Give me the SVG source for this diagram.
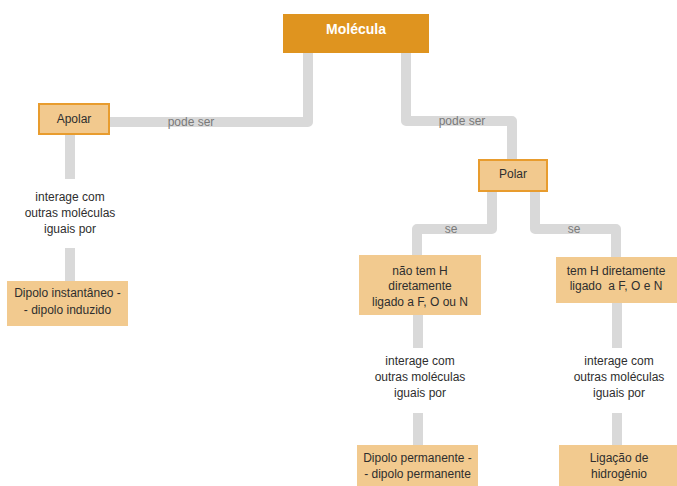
<svg xmlns="http://www.w3.org/2000/svg" width="677" height="486" viewBox="0 0 677 486">
<style>
text{font-family:"Liberation Sans","Arial",sans-serif;font-size:12px;fill:#2e2e2e;text-anchor:middle}
.t{fill:#fff;font-weight:bold;font-size:14px}
.lbl{fill:#7a7a7a}
.c{fill:none;stroke:#d9d9d9;stroke-width:10;stroke-linejoin:round}
.main{fill:#df941f}
.sel{fill:#f2c98e;stroke:#e89c2e;stroke-width:2}
.box{fill:#f2ca8f}
</style>
<rect width="677" height="486" fill="#fff"/>
<g id="connectors">
<path class="c" d="M308,53 V122 H109"/>
<path class="c" d="M406,53 V121 H512 V159"/>
<path class="c" d="M492,191 V229 H417 V256"/>
<path class="c" d="M535,191 V229 H616 V257"/>
<path class="c" d="M70,134 V179 M70,248 V281"/>
<path class="c" d="M418,315 V348 M418,413 V445"/>
<path class="c" d="M617,303 V348 M617,413 V445"/>
<text class="lbl" x="191" y="126">pode ser</text>
<text class="lbl" x="462" y="125">pode ser</text>
<text class="lbl" x="451" y="233">se</text>
<text class="lbl" x="574" y="233">se</text>
</g>
<g id="molecula">
<rect class="main" x="283" y="14" width="146" height="39"/>
<text class="t" x="356" y="34">Molécula</text>
</g>
<g id="apolar">
<rect class="sel" x="39" y="104" width="70" height="30"/>
<text x="74" y="123">Apolar</text>
</g>
<g id="polar">
<rect class="sel" x="479" y="160" width="68" height="31"/>
<text x="513" y="178">Polar</text>
</g>
<g id="interage1">
<text x="70" y="201">interage com</text>
<text x="70" y="217">outras moléculas</text>
<text x="70" y="233">iguais por</text>
</g>
<g id="dipolo-inst">
<rect class="box" x="7" y="281" width="121" height="45"/>
<text x="67.5" y="297">Dipolo instantâneo -</text>
<text x="67.5" y="314">- dipolo induzido</text>
</g>
<g id="nao-tem-h">
<rect class="box" x="359" y="255" width="122" height="60"/>
<text x="420" y="275">não tem H</text>
<text x="420" y="290">diretamente</text>
<text x="420" y="306">ligado a F, O ou N</text>
</g>
<g id="tem-h">
<rect class="box" x="556" y="257" width="121" height="46"/>
<text x="616" y="275">tem H diretamente</text>
<text x="616" y="290" xml:space="preserve">ligado  a F, O e N</text>
</g>
<g id="interage2">
<text x="420" y="365">interage com</text>
<text x="420" y="381">outras moléculas</text>
<text x="420" y="397">iguais por</text>
</g>
<g id="interage3">
<text x="619" y="365">interage com</text>
<text x="619" y="381">outras moléculas</text>
<text x="619" y="397">iguais por</text>
</g>
<g id="dipolo-perm">
<rect class="box" x="357" y="445" width="121" height="41"/>
<text x="417.5" y="462">Dipolo permanente -</text>
<text x="417.5" y="478">- dipolo permanente</text>
</g>
<g id="ligacao">
<rect class="box" x="559" y="445" width="118" height="41"/>
<text x="619" y="462">Ligação de</text>
<text x="619" y="478">hidrogênio</text>
</g>
</svg>
